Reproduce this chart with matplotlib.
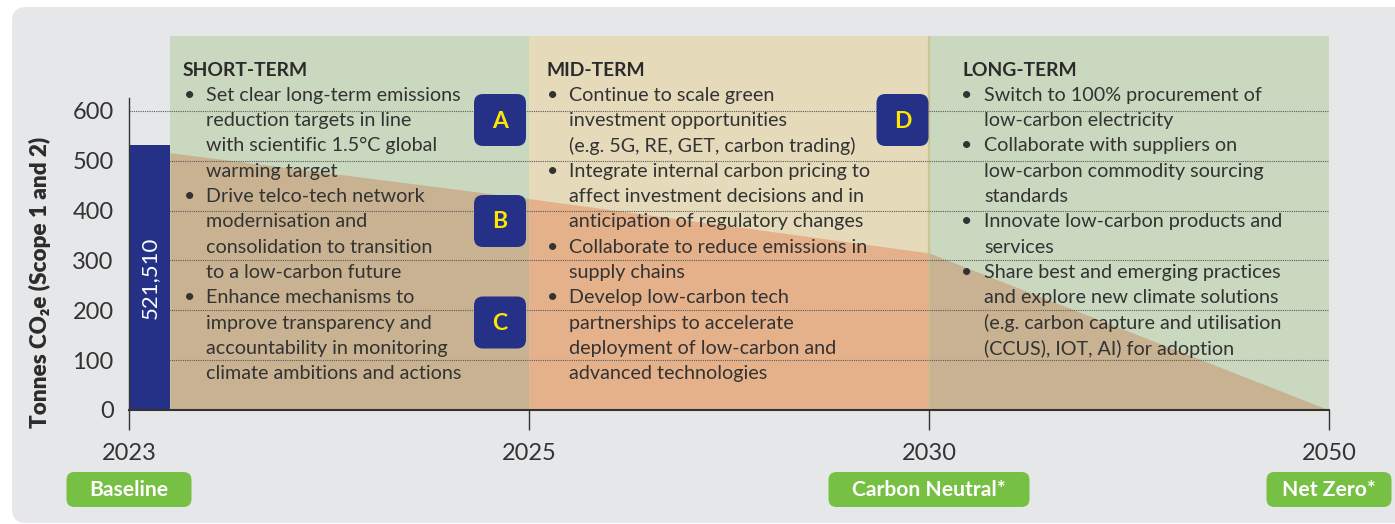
import matplotlib.pyplot as plt
from matplotlib.patches import FancyBboxPatch

plt.rcParams['font.family'] = ['Lato', 'DejaVu Sans']

# Valores do gráfico
years = ['2023', '2025', '2030', '2050']
milestones = ['Baseline', None, 'Carbon Neutral*', 'Net Zero*']
y_ticks = [0, 100, 200, 300, 400, 500, 600]

baseline_value = 532          # altura da barra
baseline_label = '521,510'

# Trajetória de emissões: borda da barra, 2025, 2030, 2050
pathway_values = [516, 424, 315, 0]

phase_titles = ['SHORT-TERM', 'MID-TERM', 'LONG-TERM']
phase_bullets = [
    [['Set clear long-term emissions', 'reduction targets in line',
      'with scientific 1.5°C global', 'warming target'],
     ['Drive telco-tech network', 'modernisation and',
      'consolidation to transition', 'to a low-carbon future'],
     ['Enhance mechanisms to', 'improve transparency and',
      'accountability in monitoring', 'climate ambitions and actions']],
    [['Continue to scale green', 'investment opportunities',
      '(e.g. 5G, RE, GET, carbon trading)'],
     ['Integrate internal carbon pricing to', 'affect investment decisions and in',
      'anticipation of regulatory changes'],
     ['Collaborate to reduce emissions in', 'supply chains'],
     ['Develop low-carbon tech', 'partnerships to accelerate',
      'deployment of low-carbon and', 'advanced technologies']],
    [['Switch to 100% procurement of', 'low-carbon electricity'],
     ['Collaborate with suppliers on', 'low-carbon commodity sourcing', 'standards'],
     ['Innovate low-carbon products and', 'services'],
     ['Share best and emerging practices', 'and explore new climate solutions',
      '(e.g. carbon capture and utilisation', '(CCUS), IOT, AI) for adoption']],
]
badge_letters = ['A', 'B', 'C', 'D']

# Cores
panel_color = '#E6E7E9'
green_bg = '#CAD8BF'
beige_bg = '#E5DABA'
tan_fill = '#C8B291'
orange_fill = '#E4B18B'
navy = '#253186'
pill_green = '#76C043'
text_color = '#333333'

W, H = 1395, 524
fig = plt.figure(figsize=(W / 100, H / 100), dpi=100)
fig.patch.set_facecolor('white')


def inch(px, py):
    # pixel (a partir do topo) -> polegadas
    return px / 100, (H - py) / 100


def fx(px):
    return px / W


def fy(py):
    return 1 - py / H


# Painel cinza de fundo
x0, y0 = inch(12, 523)
panel = FancyBboxPatch((x0, y0), (1420 - 12) / 100, (523 - 7) / 100,
                       boxstyle='round,pad=0,rounding_size=0.14',
                       transform=fig.dpi_scale_trans, facecolor=panel_color,
                       edgecolor='none', zorder=-5)
fig.patches.append(panel)

ax = fig.add_axes([fx(129), 1 - 410 / H, 1200 / W, 374 / H])
ax.set_facecolor('none')
ax.set_xlim(0, 3)
ax.set_ylim(0, 750)

bar_w = 41 / 400
positions = [bar_w, 1, 2, 3]

# Fundos das fases
region_colors = [green_bg, beige_bg, green_bg]
fill_colors = [tan_fill, orange_fill, tan_fill]
for i in range(3):
    ax.axvspan(positions[i], positions[i + 1], color=region_colors[i], lw=0, zorder=0.1)
    ax.fill_between(positions[i:i + 2], pathway_values[i:i + 2], 0,
                    color=fill_colors[i], lw=0, zorder=0.3)

ax.axvline(2, color='#C8C08A', lw=1.6, alpha=0.8, zorder=0.4)

# Barra da linha de base
ax.bar(0, baseline_value, width=bar_w, align='edge', color=navy, zorder=3)
ax.text(bar_w / 2, 266, baseline_label, rotation=90, color='white',
        fontsize=16, ha='center', va='center', zorder=4)

# Grade pontilhada
for v in y_ticks[1:]:
    ax.axhline(v, color='#5a5a5a', lw=0.8, ls=(0, (1, 1)), zorder=0.5)

# Eixos
for s in ['top', 'right']:
    ax.spines[s].set_visible(False)
ax.spines['left'].set_bounds(0, 626)
ax.spines['left'].set_color(text_color)
ax.spines['left'].set_linewidth(1.0)
ax.spines['left'].set_zorder(5)
ax.spines['bottom'].set_color(text_color)
ax.spines['bottom'].set_linewidth(1.5)
ax.spines['bottom'].set_zorder(5)

ax.set_xticks(range(len(years)))
ax.set_xticklabels(years)
ax.set_yticks(y_ticks)
ax.tick_params(axis='x', length=14.4, width=1, color=text_color, pad=9,
               labelsize=17, labelcolor=text_color)
ax.tick_params(axis='y', length=0, pad=11, labelsize=17, labelcolor=text_color)

fig.text(fx(40), fy(282), 'Tonnes CO₂e (Scope 1 and 2)', rotation=90,
         fontsize=16.2, fontweight='heavy', color='#2b2b2b', ha='center', va='center')

# Textos das fases
header_x = [183, 546, 962]
bullet_x = [190, 553, 967]
text_x = [206, 569, 984]
line_h = 25.35
for p in range(3):
    fig.text(fx(header_x[p]), fy(71), phase_titles[p], fontsize=13.9,
             fontweight='bold', color='#2b2b2b', ha='left', va='center')
    row = 0
    for bullet in phase_bullets[p]:
        fig.text(fx(bullet_x[p]), fy(95 + row * line_h), '•', fontsize=14,
                 color=text_color, ha='center', va='center')
        for line in bullet:
            fig.text(fx(text_x[p]), fy(95 + row * line_h), line, fontsize=14.2,
                     color=text_color, ha='left', va='center')
            row += 1

# Selos A-D
badge_centers = [(500, 120), (500, 221), (500, 322.5), (902.5, 120)]
for letter, (cx, cy) in zip(badge_letters, badge_centers):
    bx, by = inch(cx - 26, cy + 26)
    fig.patches.append(FancyBboxPatch((bx, by), 0.52, 0.52,
                                      boxstyle='round,pad=0,rounding_size=0.09',
                                      transform=fig.dpi_scale_trans,
                                      facecolor=navy, edgecolor='none', zorder=3))
    fig.text(fx(cx), fy(cy + 1), letter, fontsize=16.5, fontweight='bold',
             color='#FFE600', ha='center', va='center', zorder=4)

# Marcos abaixo do eixo
pill_widths = [125, None, 201, 125]
for i, label in enumerate(milestones):
    if label is None:
        continue
    cx = 129 + 400 * i
    w = pill_widths[i]
    bx, by = inch(cx - w / 2, 507)
    fig.patches.append(FancyBboxPatch((bx, by), w / 100, 0.35,
                                      boxstyle='round,pad=0,rounding_size=0.08',
                                      transform=fig.dpi_scale_trans,
                                      facecolor=pill_green, edgecolor='none', zorder=3))
    fig.text(fx(cx), fy(489.5), label, fontsize=15.2, fontweight='bold',
             color='white', ha='center', va='center', zorder=4)

fig.savefig('out.png', dpi=100, facecolor='white')
